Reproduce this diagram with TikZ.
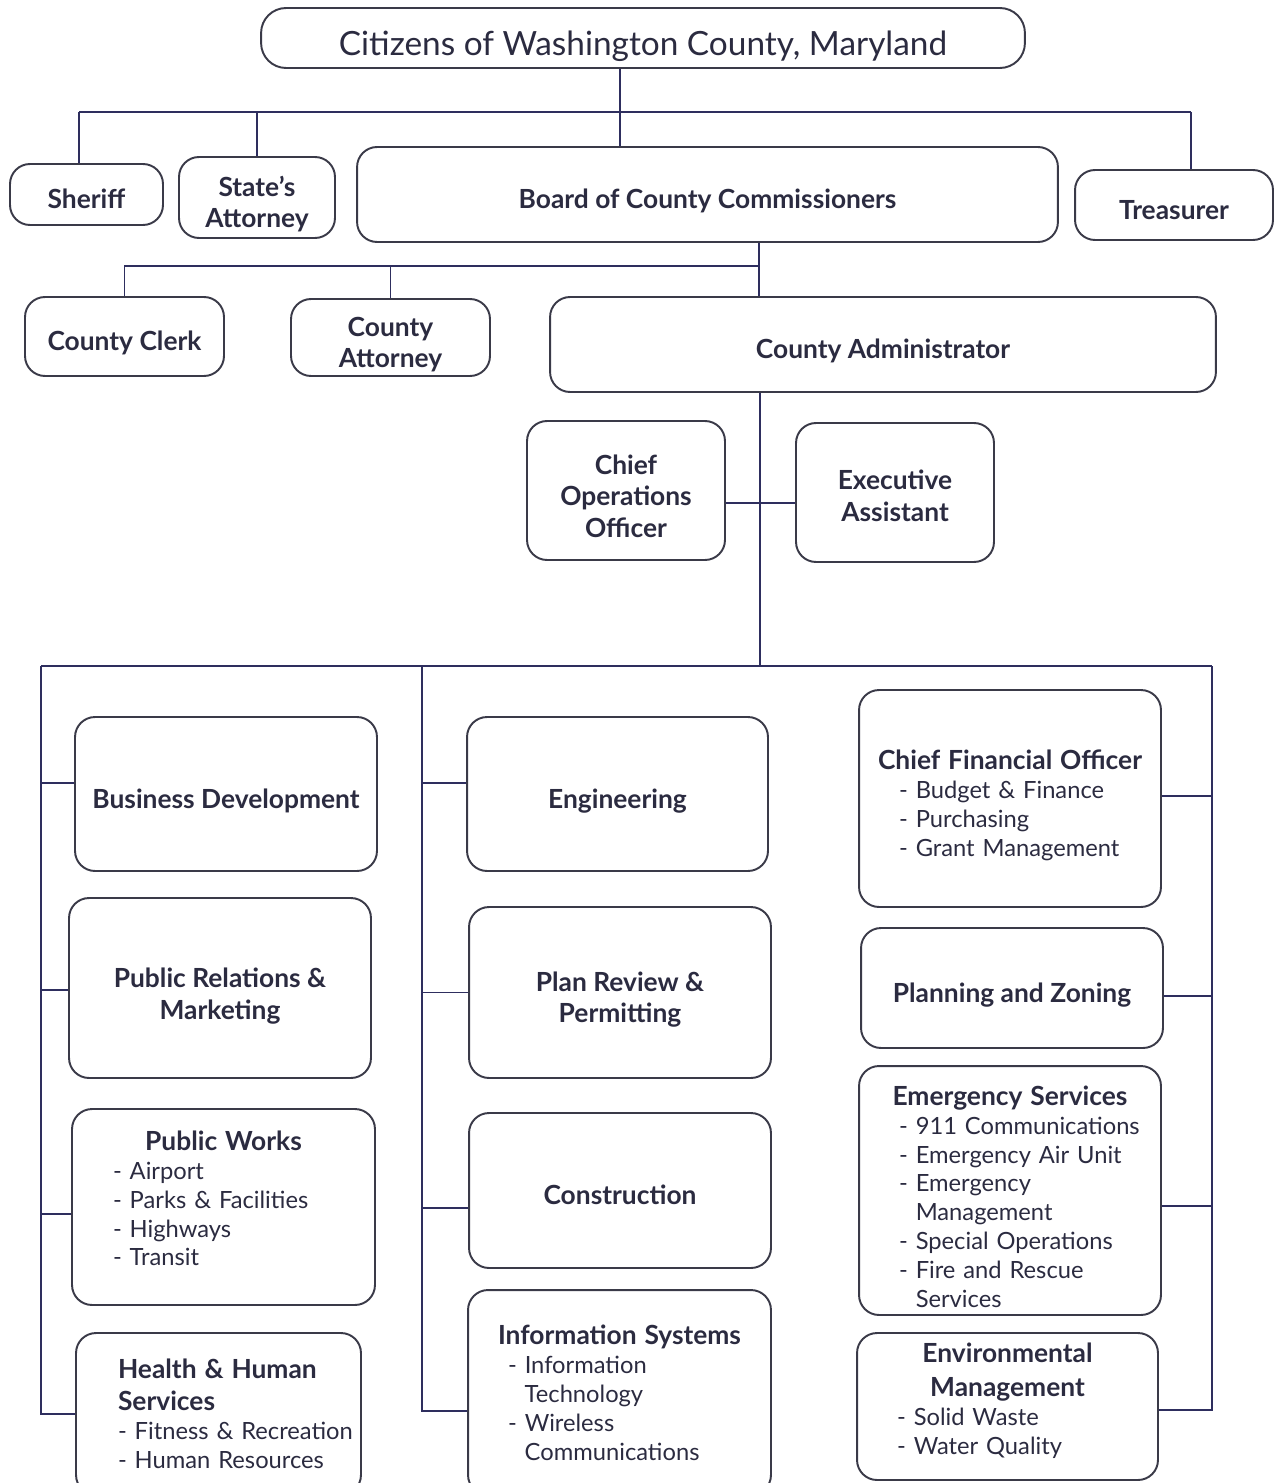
\documentclass[tikz,border=0pt]{standalone}
\usepackage{fontspec}
\setmainfont{Lato}

\definecolor{linec}{HTML}{2E2E5E}
\definecolor{boxc}{HTML}{3A3A48}
\definecolor{txtc}{HTML}{2B2B40}

% lines inside the list boxes
\newcommand\ttl[1]{\makebox[\hsize]{\fontsize{15}{17}\selectfont\bfseries #1}}
\newcommand\hdl[1]{\mbox{\fontsize{15}{17}\selectfont\bfseries #1}}
\newcommand\itm[1]{\mbox{- #1}}
\newcommand\cnt[1]{\mbox{\phantom{- }#1}}
% invisible struts to place text lower / higher in a box
\newcommand\tb[1]{\rule{0pt}{#1}}
\newcommand\bt[1]{\rule[-#1]{0pt}{0pt}}

\tikzset{
  box/.style={draw=boxc, line width=1.1pt, rounded corners=0.4cm, text=txtc,
    align=center, inner sep=0pt, font=\fontsize{15}{18}\selectfont\bfseries},
  one/.style={text height=18pt, text depth=2pt},
  wh/.style 2 args={minimum width=#1, minimum height=#2},
  listbox/.style={box, align=left, text width=4.44cm, font=\fontsize{13.5}{16.5}\selectfont},
  link/.style={draw=linec, line width=1.1pt},
}

\begin{document}
\begin{tikzpicture}[x=0.02cm, y=-0.02cm]
\clip (0,0) rectangle (1277,1483);

% top
\node[box, wh={15.28cm}{1.2cm}, rounded corners=0.5cm, font=\fontsize{19}{21}\selectfont,
  text height=22.4pt, text depth=3pt] (citizens) at (643,38) {Citizens of Washington County, Maryland};

\node[box, one, wh={3.06cm}{1.22cm}] (sheriff) at (86.5,194.5) {Sheriff};
\node[box, wh={3.12cm}{1.62cm}] (states) at (257,197.5) {\tb{19pt}State's\\Attorney};
\node[box, one, wh={14.02cm}{1.9cm}] (board) at (707.5,194.5) {Board of County Commissioners};
\node[box, one, wh={3.96cm}{1.4cm}] (treasurer) at (1174,205) {Treasurer};

\node[box, one, wh={3.98cm}{1.58cm}] (clerk) at (124.5,336.5) {County Clerk};
\node[box, wh={3.98cm}{1.54cm}] (cattorney) at (390.5,337.5) {\tb{19pt}County\\Attorney};
\node[box, one, wh={13.32cm}{1.9cm}] (admin) at (883,344.5) {County Administrator};

\node[box, wh={3.96cm}{2.78cm}] (coo) at (626,490.5) {\tb{17.6pt}Chief\\Operations\\Officer};
\node[box, wh={3.96cm}{2.78cm}] (exec) at (895,492.5) {\tb{15pt}Executive\\Assistant};

% left column
\node[box, one, wh={6.04cm}{3.08cm}] (busdev) at (226,794) {Business Development};
\node[box, wh={6.04cm}{3.6cm}] (pr) at (220,988) {\tb{20.4pt}Public Relations \&\\Marketing};
\node[listbox, wh={6.06cm}{3.92cm}, text width=4.42cm] (pubworks) at (223.5,1207)
  {\ttl{Public Works}\\ \itm{Airport}\\ \itm{Parks \& Facilities}\\ \itm{Highways}\\ \itm{Transit}\bt{10pt}};
\node[listbox, wh={5.7cm}{3.24cm}, text width=4.02cm] (health) at (218.5,1414)
  {\hdl{Health \& Human}\\[1.7pt] \hdl{Services}\\ \itm{Fitness \& Recreation}\\ \itm{Human Resources}};

% middle column
\node[box, one, wh={6.02cm}{3.08cm}] (eng) at (617.5,794) {Engineering};
\node[box, wh={6.04cm}{3.42cm}] (plan) at (620,992.5) {\tb{19.4pt}Plan Review \&\\Permitting};
\node[box, one, wh={6.04cm}{3.1cm}] (constr) at (620,1190.5) {Construction};
\node[listbox, wh={6.06cm}{4.1cm}, text width=4.46cm] (infosys) at (619.5,1392.5)
  {\ttl{Information Systems}\\ \itm{Information}\\ \cnt{Technology}\\ \itm{Wireless}\\ \cnt{Communications}};

% right column
\node[listbox, wh={6.04cm}{4.34cm}] (cfo) at (1010,798.5)
  {\tb{19.5pt}\ttl{Chief Financial Officer}\\ \itm{Budget \& Finance}\\ \itm{Purchasing}\\ \itm{Grant Management}};
\node[box, one, wh={6.04cm}{2.4cm}] (pz) at (1012,988) {Planning and Zoning};
\node[listbox, wh={6.04cm}{4.98cm}] (emerg) at (1010,1190.5)
  {\tb{18.3pt}\ttl{Emergency Services}\\ \itm{911 Communications}\\ \itm{Emergency Air Unit}\\ \itm{Emergency}\\ \cnt{Management}\\ \itm{Special Operations}\\ \itm{Fire and Rescue}\\ \cnt{Services}};
\node[listbox, wh={6.02cm}{2.94cm}, text width=4.42cm] (env) at (1007.5,1406.5)
  {\ttl{Environmental}\\[2.8pt] \ttl{Management}\\ \itm{Solid Waste}\\ \itm{Water Quality}\bt{9.2pt}};

% citizens -> elected offices
\coordinate (topbus) at (620,112);
\coordinate (topL) at (79,112);
\coordinate (topR) at (1191,112);
\draw[link] (topL) -- (topR);
\draw[link] (citizens.south -| topbus) -- (board.north -| topbus);
\draw[link] (topL) -- (sheriff.north -| topL);
\draw[link] (states.north |- topbus) -- (states.north);
\draw[link] (topR) -- (treasurer.north -| topR);

% board -> appointees
\coordinate (midbus) at (759,266);
\draw[link] (board.south -| midbus) -- (admin.north -| midbus);
\draw[link] (midbus) -| (clerk.north);
\draw[link] (cattorney.north |- midbus) -- (cattorney.north);

% administrator -> departments
\coordinate (aide) at (760,503);
\coordinate (lowbus) at (760,666);
\coordinate (busBL) at (41,666);
\coordinate (busBM) at (422,666);
\coordinate (busBR) at (1212,666);
\draw[link] (admin.south -| lowbus) -- (lowbus);
\draw[link] (coo.east |- aide) -- (exec.west |- aide);
\draw[link] (busBL) -- (busBR);

\foreach \b/\s in {busdev/0.22cm, pr/-0.04cm, pubworks/-0.14cm}
  \draw[link] ([yshift=\s]\b.west) -- ([yshift=\s]\b.west -| busBL);
\draw[link] (busBL) |- (health.west);

\foreach \b/\s in {eng/0.22cm, plan/0cm, constr/-0.35cm}
  \draw[link] ([yshift=\s]\b.west) -- ([yshift=\s]\b.west -| busBM);
\draw[link] (busBM) |- ([yshift=-0.37cm]infosys.west);

\foreach \b/\s in {cfo/0.05cm, pz/-0.16cm, emerg/-0.31cm}
  \draw[link] ([yshift=\s]\b.east) -- ([yshift=\s]\b.east -| busBR);
\draw[link] (busBR) |- ([yshift=-0.07cm]env.east);
\end{tikzpicture}
\end{document}
